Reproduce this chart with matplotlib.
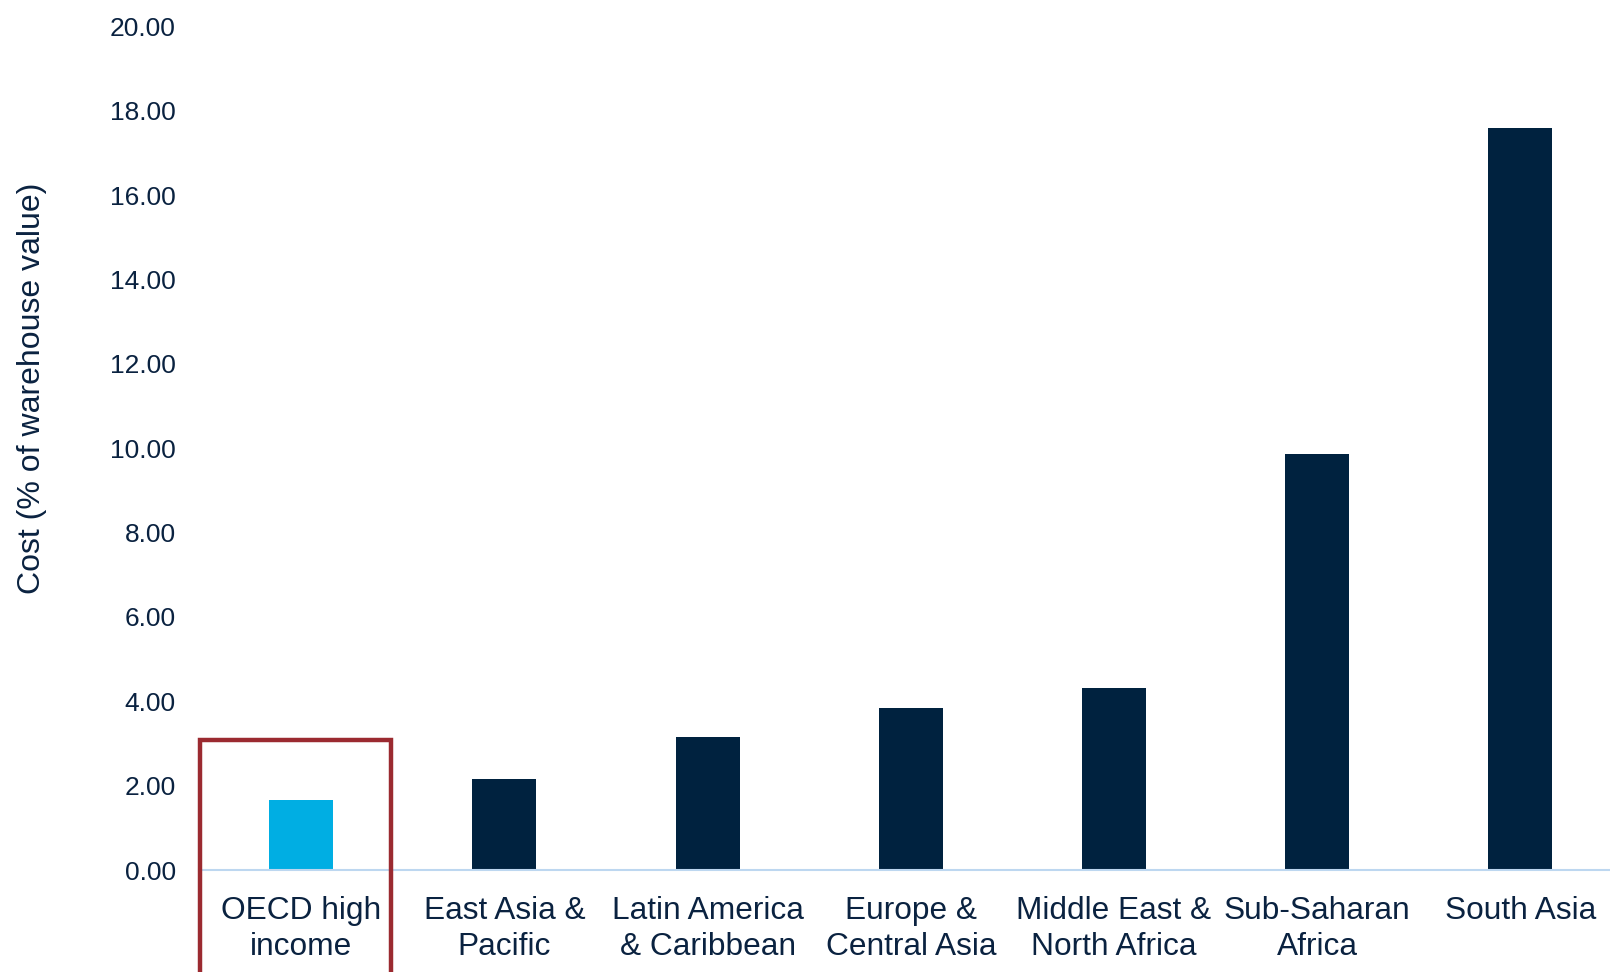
import matplotlib
matplotlib.use("Agg")
import matplotlib.pyplot as plt
from matplotlib.patches import Rectangle

# Warehouse cost by region
regions = [
    "OECD high\nincome",
    "East Asia &\nPacific",
    "Latin America\n& Caribbean",
    "Europe &\nCentral Asia",
    "Middle East &\nNorth Africa",
    "Sub-Saharan\nAfrica",
    "South Asia",
]
cost = [1.66, 2.17, 3.15, 3.85, 4.31, 9.86, 17.59]
highlight = "OECD high\nincome"

NAVY = "#00223F"
CYAN = "#00AEE3"
TEXT = "#0A2240"
BOX = "#9B2A30"

plt.rcParams["font.family"] = ["Liberation Sans", "DejaVu Sans"]

fig = plt.figure(figsize=(16.1, 9.72), dpi=100)
ax = fig.add_axes([0.1239, 0.1049, 0.8836, 0.8678])

colors = [CYAN if r == highlight else NAVY for r in regions]
x = range(len(regions))
ax.bar(x, cost, width=0.315, color=colors, zorder=2)

ax.set_xlim(-0.5, len(regions) - 0.5)
ax.set_ylim(0, 20)
ax.set_yticks(range(0, 21, 2))
ax.set_yticklabels([f"{v:.2f}" for v in range(0, 21, 2)])
ax.set_xticks(list(x))
ax.set_xticklabels(regions, linespacing=1.25)

ax.tick_params(axis="y", length=0, pad=17, labelsize=19, labelcolor=TEXT)
ax.tick_params(axis="x", length=0, pad=19, labelsize=22.8, labelcolor=TEXT)

for side in ["top", "right", "left"]:
    ax.spines[side].set_visible(False)
ax.spines["bottom"].set_color("#BDD7F0")
ax.spines["bottom"].set_linewidth(1.5)

fig.text(0.020, 0.60, "Cost (% of warehouse value)", rotation=90,
         ha="center", va="center", fontsize=23, color=TEXT)

# outline around the highlighted category
ax.add_patch(Rectangle((-0.497, -5), 0.94, 8.08, fill=False, edgecolor=BOX,
                       linewidth=3.2, clip_on=False, zorder=3))

fig.savefig("out.png", dpi=100)
